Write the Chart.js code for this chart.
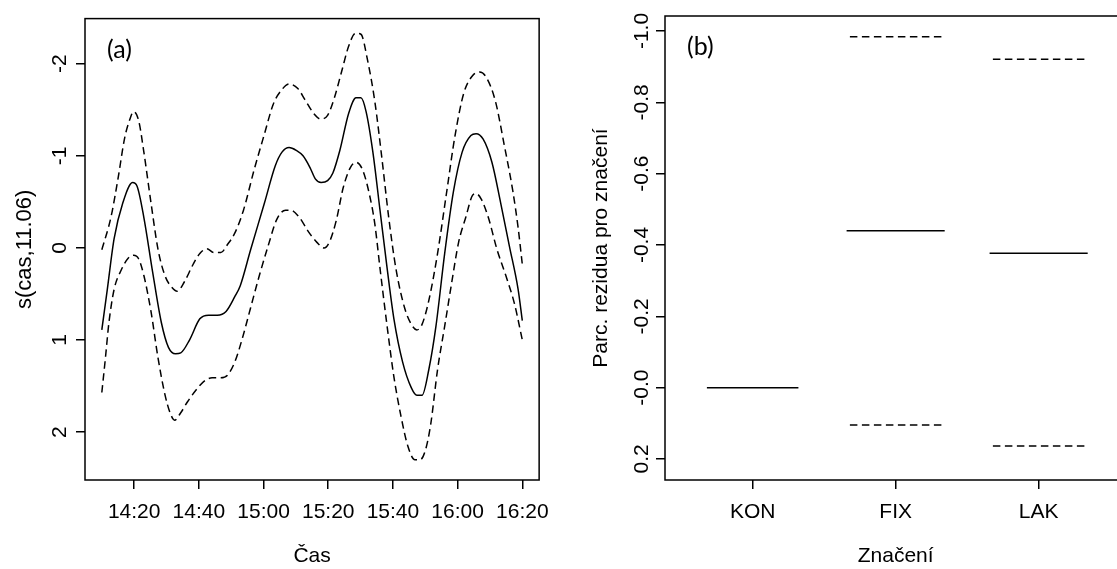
<!DOCTYPE html>
<html>
<head>
<meta charset="utf-8">
<script src="https://cdn.jsdelivr.net/npm/chart.js@4.4.1/dist/chart.umd.min.js"></script>
<style>
  html, body { margin: 0; padding: 0; background: #fff; overflow: hidden; }
  #left { position: absolute; left: 0; top: 0; }
  #right { position: absolute; left: 560px; top: 0; }
</style>
</head>
<body>
<canvas id="left" width="560" height="569"></canvas>
<canvas id="right" width="580" height="569"></canvas>
<script>
// (a) smooth term s(cas), time in minutes after 14:00
const fitTime = [10, 11.7, 13.8, 16.5, 19.5, 20.9, 23, 25.7, 28.4, 30.6, 32.8, 34.4, 37.1, 40.3, 43, 45.7, 48.4, 51.1, 52.8, 56, 60.3, 63.6, 65.7, 67.9, 70.1, 72.2, 74.4, 76, 77.8, 79.8, 81.4, 83.6, 86.3, 88.6, 90.1, 91.7, 93.8, 96, 98.2, 100.3, 103, 105.7, 107.4, 109, 111.1, 113.3, 116, 118.7, 121.4, 124.1, 125.7, 127.9, 130.6, 133.3, 136, 138.7, 140];
const fitValue = [0.89, 0.45, -0.10, -0.49, -0.71, -0.67, -0.33, 0.26, 0.81, 1.08, 1.15, 1.14, 1.00, 0.77, 0.73, 0.73, 0.69, 0.53, 0.41, 0.02, -0.49, -0.89, -1.04, -1.09, -1.06, -1.00, -0.87, -0.75, -0.71, -0.73, -0.81, -1.06, -1.46, -1.63, -1.63, -1.48, -1.04, -0.41, 0.22, 0.77, 1.24, 1.52, 1.60, 1.60, 1.32, 0.85, 0.06, -0.61, -1.04, -1.22, -1.24, -1.18, -0.93, -0.49, -0.02, 0.45, 0.79];

const upperTime = [10, 12.8, 14.9, 17.1, 18.7, 19.8, 21.4, 23, 25.2, 27.4, 29.5, 31.7, 33.3, 35.5, 38.2, 40.3, 42.5, 44.6, 46.8, 48.9, 51.1, 53.8, 57.1, 60.3, 63, 65.7, 67.9, 70.6, 72.8, 75.5, 77.6, 79.8, 81.9, 84.1, 86.3, 88.4, 90.1, 92.2, 94.4, 96.5, 98.7, 100.9, 103.6, 105.7, 107.4, 109, 111.1, 113.8, 116.5, 119.2, 121.9, 124.6, 126.8, 128.9, 131.7, 134.4, 137.1, 138.7, 140];
const upperValue = [0.02, -0.33, -0.73, -1.20, -1.40, -1.48, -1.38, -1.04, -0.49, 0.02, 0.30, 0.43, 0.47, 0.37, 0.18, 0.06, 0.01, 0.05, 0.05, -0.04, -0.16, -0.41, -0.85, -1.24, -1.56, -1.72, -1.78, -1.73, -1.61, -1.46, -1.40, -1.44, -1.63, -1.91, -2.19, -2.33, -2.32, -2.03, -1.59, -1.00, -0.33, 0.22, 0.65, 0.83, 0.89, 0.83, 0.57, 0.06, -0.58, -1.22, -1.68, -1.87, -1.91, -1.85, -1.59, -1.12, -0.61, -0.22, 0.18];

const lowerTime = [10, 11.1, 12.2, 13.8, 16, 18.2, 19.8, 21.4, 23, 25.2, 27.4, 29.5, 31.1, 32.5, 34.4, 36.5, 39.2, 41.9, 44.1, 46.8, 48.9, 51.1, 53.3, 56, 58.7, 61.4, 64.1, 66.8, 68.4, 71.1, 73.8, 76.5, 78.7, 80.3, 82.5, 84.6, 86.8, 88.6, 90.6, 92.8, 94.4, 96, 98.2, 100.3, 102.5, 104.6, 106.8, 108.4, 110.1, 111.7, 113.8, 116, 118.2, 120.3, 122.5, 124.6, 125.7, 127.3, 129.5, 132.2, 134.9, 137.6, 140];
const lowerValue = [1.57, 1.20, 0.81, 0.45, 0.24, 0.11, 0.08, 0.12, 0.30, 0.69, 1.20, 1.59, 1.79, 1.87, 1.79, 1.67, 1.54, 1.44, 1.41, 1.41, 1.38, 1.24, 1.00, 0.65, 0.30, -0.02, -0.31, -0.41, -0.41, -0.33, -0.18, -0.06, 0.00, -0.06, -0.30, -0.65, -0.87, -0.93, -0.85, -0.57, -0.26, 0.22, 0.85, 1.40, 1.83, 2.15, 2.30, 2.30, 2.19, 1.91, 1.32, 0.85, 0.37, -0.06, -0.33, -0.57, -0.59, -0.53, -0.33, 0.02, 0.30, 0.61, 1.00];

const timeTicks = [20, 40, 60, 80, 100, 120, 140];
const smoothTicks = [-2, -1, 0, 1, 2];

// (b) partial residuals for the factor "značení"
const levels = ['KON', 'FIX', 'LAK'];
const levelEffect = [0, -0.440, -0.377];
const levelUpper = [0, -0.984, -0.921];
const levelLower = [0, 0.105, 0.164];
const effectTicks = [-1.0, -0.8, -0.6, -0.4, -0.2, 0, 0.2];
const effectTickLabels = ['-1.0', '-0.8', '-0.6', '-0.4', '-0.2', '-0.0', '0.2'];

const FONT = "'Liberation Sans', Arial, sans-serif";
const tickFont = { family: FONT, size: 21 };
const titleFont = { family: FONT, size: 21 };
const DASH = [7.5, 4.5];

const frame = {
  id: 'frame',
  afterDraw(chart, args, opts) {
    const { ctx, chartArea: a } = chart;
    ctx.save();
    ctx.strokeStyle = '#000';
    ctx.lineWidth = 1.5;
    ctx.strokeRect(a.left, a.top, a.right - a.left, a.bottom - a.top);
    ctx.fillStyle = '#000';
    ctx.font = "25px Lato, 'Open Sans', sans-serif";
    ctx.textBaseline = 'middle';
    ctx.fillText(opts.tag, a.left + 22, a.top + 31);
    ctx.restore();
  }
};

function tickGrid() {
  return { drawOnChartArea: false, drawTicks: true, tickLength: 9, color: '#000', lineWidth: 1.5 };
}

function fmtTime(m) {
  const h = 14 + Math.floor(m / 60);
  return h + ':' + String(m % 60).padStart(2, '0');
}

function pairs(xs, ys) {
  return xs.map((x, i) => ({ x: x, y: ys[i] }));
}

function curve(data, dashed) {
  return {
    data: data,
    borderColor: '#000',
    borderWidth: 1.5,
    borderDash: dashed ? DASH : [],
    pointRadius: 0,
    fill: false,
    cubicInterpolationMode: 'monotone'
  };
}

new Chart(document.getElementById('left'), {
  type: 'line',
  data: {
    datasets: [
      curve(pairs(fitTime, fitValue), false),
      curve(pairs(upperTime, upperValue), true),
      curve(pairs(lowerTime, lowerValue), true)
    ]
  },
  options: {
    responsive: false,
    animation: false,
    devicePixelRatio: 1,
    layout: { padding: { left: 0, top: 15.7, right: 11, bottom: 0 } },
    plugins: { legend: { display: false }, tooltip: { enabled: false }, frame: { tag: '(a)' } },
    scales: {
      x: {
        type: 'linear', min: 4.8, max: 145.2,
        afterBuildTicks: s => { s.ticks = timeTicks.map(v => ({ value: v })); },
        afterFit: s => { s.height = 89; },
        grid: tickGrid(),
        border: { display: false },
        ticks: { maxRotation: 0, autoSkip: false, padding: 11, color: '#000', font: tickFont, callback: v => fmtTime(v) },
        title: { display: true, text: 'Čas', color: '#000', font: titleFont, padding: { top: -5, bottom: 0 } }
      },
      y: {
        type: 'linear', reverse: true, min: -2.49, max: 2.52,
        afterBuildTicks: s => { s.ticks = smoothTicks.map(v => ({ value: v })); },
        afterFit: s => { s.width = 85; },
        grid: tickGrid(),
        border: { display: false },
        ticks: { minRotation: 90, maxRotation: 90, crossAlign: 'center', autoSkip: false, padding: 6, color: '#000', font: tickFont, callback: v => String(v) },
        title: { display: true, text: 's(cas,11.06)', color: '#000', font: { family: FONT, size: 22 }, padding: { top: 12, bottom: 0 } }
      }
    }
  },
  plugins: [frame]
});

const solidHalf = [0.32, 0.343, 0.343];
const dashHalf = 0.32;
function segment(i, v, half, dashed) {
  return curve([{ x: i + 1 - half, y: v }, { x: i + 1 + half, y: v }], dashed);
}
const levelSets = [];
levels.forEach((l, i) => {
  // the reference level has no interval, its bounds coincide with the line
  if (levelUpper[i] !== levelEffect[i]) levelSets.push(segment(i, levelUpper[i], dashHalf, true));
  if (levelLower[i] !== levelEffect[i]) levelSets.push(segment(i, levelLower[i], dashHalf, true));
  levelSets.push(segment(i, levelEffect[i], solidHalf[i], false));
});

new Chart(document.getElementById('right'), {
  type: 'line',
  data: { datasets: levelSets },
  options: {
    responsive: false,
    animation: false,
    devicePixelRatio: 1,
    layout: { padding: { left: 0, top: 16, right: 13.7, bottom: 0 } },
    plugins: { legend: { display: false }, tooltip: { enabled: false }, frame: { tag: '(b)' } },
    scales: {
      x: {
        type: 'linear', min: 0.387, max: 3.613,
        afterBuildTicks: s => { s.ticks = levels.map((l, i) => ({ value: i + 1 })); },
        afterFit: s => { s.height = 89; },
        grid: tickGrid(),
        border: { display: false },
        ticks: { maxRotation: 0, autoSkip: false, padding: 11, color: '#000', font: tickFont, callback: v => levels[Math.round(v) - 1] },
        title: { display: true, text: 'Značení', color: '#000', font: titleFont, padding: { top: -5, bottom: 0 } }
      },
      y: {
        type: 'linear', reverse: true, min: -1.042, max: 0.259,
        afterBuildTicks: s => { s.ticks = effectTicks.map(v => ({ value: v })); },
        afterFit: s => { s.width = 105; },
        grid: tickGrid(),
        border: { display: false },
        ticks: { minRotation: 90, maxRotation: 90, crossAlign: 'center', autoSkip: false, padding: -3.8, color: '#000', font: tickFont,
                 callback: (v, i) => effectTickLabels[i] },
        title: { display: true, text: 'Parc. rezidua pro značení', color: '#000', font: titleFont, padding: { top: 28.6, bottom: 0 } }
      }
    }
  },
  plugins: [frame]
});
</script>
</body>
</html>
